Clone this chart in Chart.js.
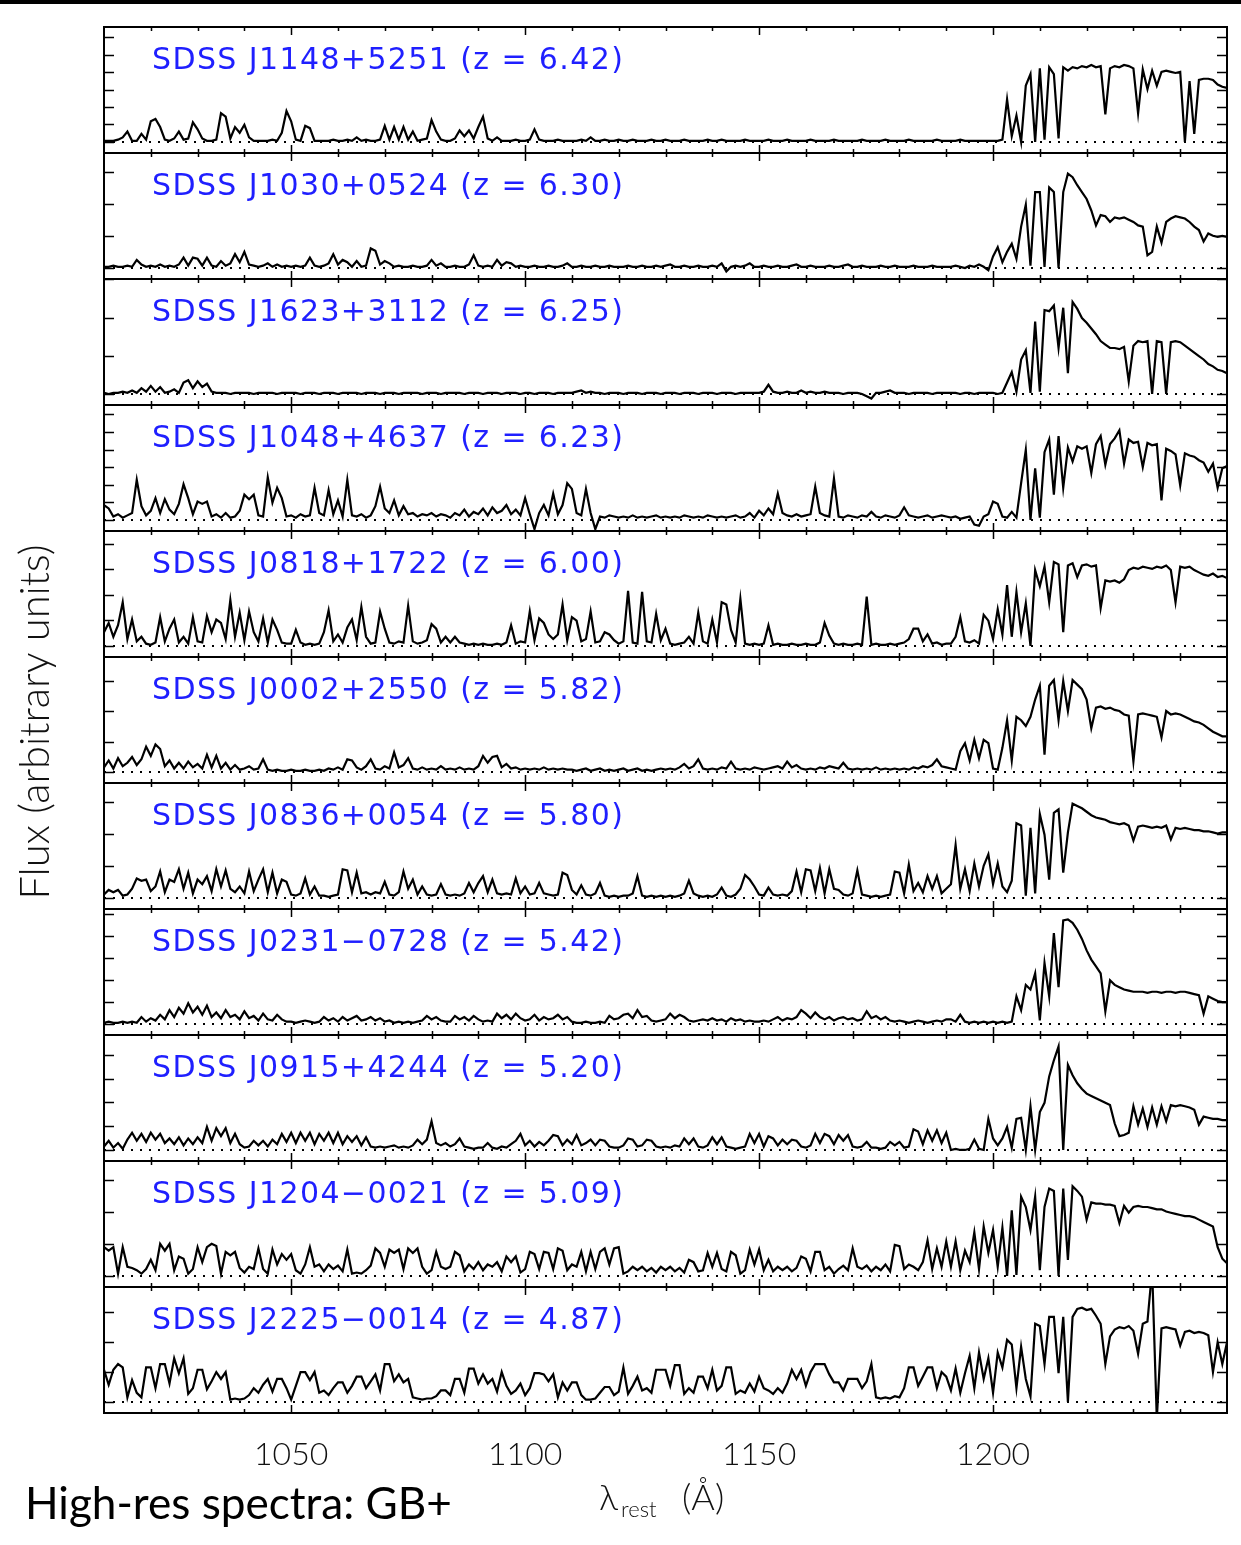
<!DOCTYPE html>
<html>
<head>
<meta charset="utf-8">
<title>High-res spectra: GB+</title>
<script src="https://cdn.jsdelivr.net/npm/chart.js@4.4.1/dist/chart.umd.min.js"></script>
<style>
  html, body { margin: 0; padding: 0; background: #fff; }
  #wrap { position: relative; width: 1241px; height: 1545px; }
  canvas { display: block; }
</style>
</head>
<body>
<div id="wrap"><canvas id="specChart" width="1241" height="1545"></canvas></div>
<script>
"use strict";

// rest-frame wavelength grid (A), 1 A steps
const waveGrid = [
  1010, 1011, 1012, 1013, 1014, 1015, 1016, 1017, 1018, 1019,
  1020, 1021, 1022, 1023, 1024, 1025, 1026, 1027, 1028, 1029,
  1030, 1031, 1032, 1033, 1034, 1035, 1036, 1037, 1038, 1039,
  1040, 1041, 1042, 1043, 1044, 1045, 1046, 1047, 1048, 1049,
  1050, 1051, 1052, 1053, 1054, 1055, 1056, 1057, 1058, 1059,
  1060, 1061, 1062, 1063, 1064, 1065, 1066, 1067, 1068, 1069,
  1070, 1071, 1072, 1073, 1074, 1075, 1076, 1077, 1078, 1079,
  1080, 1081, 1082, 1083, 1084, 1085, 1086, 1087, 1088, 1089,
  1090, 1091, 1092, 1093, 1094, 1095, 1096, 1097, 1098, 1099,
  1100, 1101, 1102, 1103, 1104, 1105, 1106, 1107, 1108, 1109,
  1110, 1111, 1112, 1113, 1114, 1115, 1116, 1117, 1118, 1119,
  1120, 1121, 1122, 1123, 1124, 1125, 1126, 1127, 1128, 1129,
  1130, 1131, 1132, 1133, 1134, 1135, 1136, 1137, 1138, 1139,
  1140, 1141, 1142, 1143, 1144, 1145, 1146, 1147, 1148, 1149,
  1150, 1151, 1152, 1153, 1154, 1155, 1156, 1157, 1158, 1159,
  1160, 1161, 1162, 1163, 1164, 1165, 1166, 1167, 1168, 1169,
  1170, 1171, 1172, 1173, 1174, 1175, 1176, 1177, 1178, 1179,
  1180, 1181, 1182, 1183, 1184, 1185, 1186, 1187, 1188, 1189,
  1190, 1191, 1192, 1193, 1194, 1195, 1196, 1197, 1198, 1199,
  1200, 1201, 1202, 1203, 1204, 1205, 1206, 1207, 1208, 1209,
  1210, 1211, 1212, 1213, 1214, 1215, 1216, 1217, 1218, 1219,
  1220, 1221, 1222, 1223, 1224, 1225, 1226, 1227, 1228, 1229,
  1230, 1231, 1232, 1233, 1234, 1235, 1236, 1237, 1238, 1239,
  1240, 1241, 1242, 1243, 1244, 1245, 1246, 1247, 1248, 1249,
  1250
];

const quasarNames = [
  "J1148+5251", "J1030+0524", "J1623+3112", "J1048+4637", "J0818+1722", "J0002+2550",
  "J0836+0054", "J0231\u22120728", "J0915+4244", "J1204\u22120021", "J2225\u22120014"
];
const redshifts = [6.42, 6.30, 6.25, 6.23, 6.00, 5.82, 5.80, 5.42, 5.20, 5.09, 4.87];

// flux of each quasar, 0 = zero level, 100 = top of its panel
const fluxJ1148 = [
  1, 1, 1, 2, 4, 9, 1, 1, 7, 2,
  18, 20, 13, 2, 1, 3, 9, 2, 3, 17,
  11, 3, 1, 1, 2, 25, 22, 3, 13, 8,
  15, 4, 1, 1, 1, 1, 2, 1, 8, 27,
  18, 2, 1, 14, 12, 1, 1, 1, 1, 2,
  1, 1, 2, 1, 4, 1, 2, 1, 1, 2,
  14, 2, 13, 2, 13, 2, 9, 1, 2, 3,
  19, 9, 2, 1, 1, 3, 10, 5, 10, 3,
  13, 22, 3, 1, 4, 1, 1, 1, 2, 1,
  1, 2, 11, 2, 1, 1, 1, 2, 1, 1,
  1, 1, 2, 1, 4, 1, 1, 2, 1, 1,
  2, 1, 1, 2, 1, 1, 1, 2, 1, 1,
  2, 1, 1, 1, 2, 1, 1, 1, 1, 2,
  1, 1, 2, 1, 1, 1, 1, 2, 1, 1,
  1, 1, 2, 1, 1, 1, 2, 1, 1, 1,
  1, 2, 1, 1, 1, 1, 2, 1, 1, 1,
  1, 1, 2, 1, 1, 1, 1, 2, 1, 1,
  1, 1, 2, 1, 1, 1, 1, 1, 2, 1,
  1, 1, 1, 2, 1, 1, 1, 1, 1, 1, 1,
  1, 2, 37, 5, 23, 0, 49, 59, 0, 64,
  2, 65, 59, 3, 65, 62, 65, 64, 66, 65,
  67, 65, 66, 24, 64, 66, 65, 67, 66, 64,
  25, 63, 46, 62, 49, 61, 62, 61, 60, 61,
  0, 53, 7, 54, 55, 55, 54, 50, 48, 47
];
const fluxJ1030 = [
  1, 1, 2, 1, 1, 2, 1, 7, 3, 1,
  2, 1, 3, 1, 2, 1, 3, 9, 2, 9,
  8, 2, 9, 2, 1, 6, 2, 4, 12, 5,
  14, 3, 2, 1, 2, 4, 1, 3, 1, 2,
  1, 2, 1, 2, 9, 2, 1, 2, 4, 12,
  3, 7, 5, 1, 6, 1, 2, 17, 15, 3,
  6, 4, 1, 2, 1, 1, 2, 1, 1, 2,
  7, 2, 4, 1, 1, 2, 1, 1, 3, 11,
  2, 1, 2, 1, 7, 2, 5, 4, 1, 2,
  1, 1, 2, 1, 1, 2, 1, 1, 2, 4,
  1, 1, 2, 1, 1, 2, 1, 1, 2, 1,
  1, 1, 2, 1, 1, 2, 1, 1, 2, 1,
  2, 3, 1, 1, 2, 1, 1, 2, 1, 1,
  2, 1, 4, -3, 1, 2, 1, 2, 4, 1,
  1, 2, 1, 1, 2, 1, 1, 2, 3, 1,
  1, 2, 1, 1, 1, 2, 1, 1, 2, 3,
  1, 1, 2, 1, 1, 1, 2, 1, 1, 2,
  1, 1, 1, 2, 1, 1, 1, 2, 1, 1,
  1, 1, 2, 1, 0, 2, 1, 3, 1, -2, 10,
  18, 5, 14, 21, 8, 36, 55, 2, 66, 66,
  1, 70, 66, 0, 66, 82, 79, 72, 66, 60,
  50, 37, 46, 45, 40, 44, 43, 44, 42, 40,
  37, 36, 11, 14, 36, 22, 40, 43, 45, 44,
  43, 40, 36, 33, 23, 30, 28, 27, 28, 27
];
const fluxJ1623 = [
  1, 0, 1, 1, 2, 1, 3, 1, 5, 2,
  7, 2, 6, 1, 2, 4, 1, 10, 12, 5,
  11, 6, 9, 2, 1, 1, 1, 0, 1, 1,
  1, 1, 0, 1, 1, 1, 1, 0, 1, 1,
  1, 1, 0, 1, 1, 1, 0, 1, 1, 1,
  0, 1, 1, 1, 1, 0, 1, 1, 1, 0,
  1, 1, 1, 0, 1, 1, 1, 1, 0, 1,
  1, 1, 0, 1, 1, 1, 1, 0, 1, 1,
  1, 0, 1, 1, 1, 0, 1, 1, 1, 0,
  1, 1, 0, 1, 1, 1, 0, 1, 1, 1,
  1, 2, 3, 1, 2, 1, 1, 0, 1, 1,
  1, 0, 1, 1, 1, 0, 1, 1, 1, 0,
  1, 1, 1, 0, 1, 1, 1, 0, 1, 1,
  1, 0, 1, 1, 1, 0, 1, 1, 1, 1,
  1, 2, 8, 2, 1, 1, 2, 1, 1, 3,
  1, 2, 1, 1, 2, 1, 1, 1, 0, 1,
  1, 1, 0, -2, -4, 1, 1, 2, 3, 1,
  1, 1, 0, 1, 1, 1, 1, 0, 1, 1,
  1, 1, 1, 0, 1, 1, 0, 1, 1, 1, 1,
  0, 1, 10, 19, 2, 30, 38, 1, 63, 2,
  73, 72, 77, 40, 75, 18, 80, 74, 66, 62,
  57, 52, 46, 43, 40, 40, 39, 41, 11, 42,
  46, 45, 46, 0, 46, 45, 0, 45, 46, 45,
  42, 39, 36, 33, 30, 26, 24, 21, 20, 18
];
const fluxJ1048 = [
  13, 10, 3, 5, 2, 4, 6, 35, 12, 4,
  8, 19, 6, 18, 9, 5, 14, 31, 19, 5,
  16, 14, 16, 3, 5, 2, 6, 2, 3, 8,
  22, 18, 22, 4, 3, 37, 15, 28, 19, 3,
  4, 2, 5, 3, 4, 28, 6, 4, 26, 5,
  17, 3, 35, 4, 3, 5, 2, 4, 12, 29,
  10, 6, 17, 4, 12, 5, 6, 3, 5, 4,
  6, 3, 5, 4, 2, 6, 4, 9, 3, 7,
  5, 10, 4, 11, 6, 8, 13, 5, 9, 4,
  19, 5, -8, 6, 13, 4, 23, 5, 13, 32,
  27, 6, 4, 27, 6, -8, 3, 2, 4, 3,
  2, 3, 2, 4, 2, 3, 2, 3, 4, 2,
  3, 2, 3, 2, 4, 3, 2, 3, 2, 4,
  3, 2, 3, 2, 3, 4, 2, 3, 6, 2,
  8, 4, 10, 5, 23, 6, 4, 3, 5, 3,
  4, 5, 29, 6, 4, 3, 36, 3, 2, 4,
  3, 2, 4, 3, 7, 3, 2, 4, 3, 2,
  4, 11, 4, 3, 2, 3, 4, 2, 3, 4,
  3, 2, 3, 1, 2, 3, -4, -5, 3, 5, 16,
  14, 3, 2, 7, 2, 32, 61, 0, 45, 2,
  59, 70, 22, 73, 28, 63, 51, 64, 62, 64,
  41, 66, 73, 48, 66, 71, 78, 49, 70, 67,
  68, 46, 67, 65, 66, 17, 62, 60, 57, 30,
  58, 56, 55, 52, 50, 42, 49, 28, 45, 47
];
const fluxJ0818 = [
  12, 20, 8, 18, 38, 6, 23, 4, 8, 2,
  1, 3, 25, 4, 15, 23, 3, 8, 2, 25,
  4, 3, 26, 12, 23, 20, 6, 40, 8, 29,
  5, 30, 12, 4, 24, 3, 23, 14, 3, 2,
  2, 14, 3, 1, 2, 1, 2, 12, 31, 4,
  10, 3, 16, 23, 5, 34, 8, 2, 3, 30,
  15, 3, 2, 4, 3, 35, 4, 2, 3, 5,
  19, 15, 3, 8, 3, 8, 3, 2, 1, 2,
  1, 2, 1, 1, 2, 1, 3, 18, 2, 4,
  3, 30, 5, 24, 20, 10, 6, 10, 36, 5,
  25, 22, 4, 6, 30, 3, 4, 12, 10, 5,
  2, 4, 48, 3, 2, 47, 4, 3, 28, 5,
  15, 2, 1, 2, 3, 8, 2, 29, 4, 2,
  23, 3, 38, 36, 14, 3, 41, 2, 1, 2,
  1, 2, 18, 1, 2, 1, 1, 2, 1, 1,
  2, 1, 1, 3, 20, 9, 2, 1, 2, 1,
  1, 2, 1, 43, 1, 2, 1, 1, 2, 1,
  2, 3, 6, 15, 15, 4, 10, 2, 3, 1,
  2, 2, 8, 25, 4, 3, 5, 2, 27, 22, 6,
  32, 10, 53, 8, 47, 12, 37, 0, 66, 52,
  69, 38, 73, 71, 12, 70, 72, 60, 70, 71,
  69, 70, 33, 57, 56, 57, 55, 58, 66, 68,
  67, 69, 68, 67, 69, 68, 70, 66, 38, 69,
  68, 69, 66, 64, 62, 61, 63, 60, 61, 59
];
const fluxJ0002 = [
  4, 10, 3, 12, 5, 8, 13, 6, 11, 22,
  14, 24, 20, 5, 10, 3, 8, 3, 9, 4,
  7, 3, 15, 4, 14, 3, 8, 2, 6, 2,
  3, 5, 2, 3, 11, 2, 1, 2, 1, 1,
  2, 1, 1, 2, 1, 1, 2, 1, 3, 2,
  4, 2, 11, 10, 4, 2, 5, 11, 3, 2,
  5, 3, 17, 4, 6, 12, 3, 2, 4, 2,
  3, 2, 5, 2, 3, 2, 4, 2, 3, 2,
  5, 14, 8, 13, 14, 4, 7, 3, 4, 2,
  3, 2, 3, 2, 4, 2, 3, 2, 3, 2,
  2, 1, 2, 3, 1, 2, 3, 1, 2, 1,
  2, 3, 1, 2, 3, 1, 2, 1, 2, 3,
  2, 3, 2, 4, 7, 3, 5, 11, 3, 2,
  3, 2, 4, 3, 9, 3, 2, 3, 2, 4,
  3, 2, 3, 4, 5, 3, 9, 4, 6, 3,
  2, 3, 2, 4, 3, 5, 4, 3, 8, 3,
  2, 3, 2, 3, 2, 4, 2, 3, 2, 3,
  2, 3, 2, 4, 3, 5, 4, 6, 11, 5,
  4, 3, 2, 18, 25, 10, 28, 12, 28, 25, 3,
  2, 21, 45, 10, 48, 45, 40, 48, 63, 75,
  15, 75, 80, 45, 79, 53, 80, 76, 72, 63,
  38, 56, 57, 55, 56, 54, 53, 50, 49, 9,
  50, 51, 50, 49, 48, 30, 53, 50, 51, 50,
  48, 46, 44, 43, 41, 38, 35, 33, 31, 31
];
const fluxJ0836 = [
  3, 7, 5, 7, 2, 3, 8, 17, 15, 16,
  6, 10, 23, 5, 16, 14, 25, 8, 22, 4,
  16, 12, 19, 6, 25, 10, 24, 8, 5, 10,
  4, 23, 6, 16, 25, 5, 22, 4, 16, 14,
  3, 2, 4, 17, 3, 10, 2, 2, 1, 2,
  3, 25, 24, 5, 22, 4, 5, 3, 5, 4,
  14, 3, 2, 5, 23, 8, 16, 3, 10, 3,
  2, 3, 12, 3, 2, 3, 2, 4, 13, 5,
  13, 19, 5, 16, 4, 3, 4, 3, 17, 4,
  10, 3, 4, 13, 4, 3, 2, 3, 22, 20,
  7, 3, 11, 3, 2, 4, 13, 2, 1, 2,
  1, 2, 2, 4, 19, 2, 1, 2, 1, 2,
  1, 2, 1, 2, 4, 15, 4, 2, 1, 2,
  1, 3, 9, 2, 1, 3, 8, 20, 16, 10,
  3, 2, 9, 3, 2, 3, 2, 6, 23, 5,
  25, 24, 6, 26, 4, 25, 8, 7, 3, 2,
  4, 24, 3, 2, 1, 2, 1, 2, 3, 23,
  22, 4, 29, 6, 13, 5, 19, 8, 19, 4,
  8, 12, 46, 8, 25, 6, 30, 10, 28, 38, 12,
  30, 10, 5, 15, 65, 63, 2, 61, 4, 73,
  55, 16, 74, 77, 22, 57, 82, 80, 78, 75,
  72, 70, 69, 68, 66, 65, 64, 65, 63, 50,
  62, 63, 62, 61, 62, 61, 63, 51, 61, 60,
  61, 60, 59, 59, 58, 58, 57, 56, 57, 57
];
const fluxJ0231 = [
  1, 2, 1, 1, 2, 1, 2, 1, 6, 2,
  5, 3, 8, 4, 12, 6, 14, 9, 18, 10,
  15, 8, 16, 6, 10, 5, 12, 6, 8, 4,
  11, 5, 7, 3, 9, 4, 3, 8, 4, 2,
  2, 1, 2, 3, 2, 1, 2, 6, 3, 5,
  2, 6, 3, 5, 7, 3, 4, 6, 3, 5,
  2, 3, 1, 2, 1, 2, 1, 2, 3, 7,
  4, 6, 3, 2, 2, 7, 4, 6, 3, 7,
  4, 2, 3, 2, 9, 5, 8, 4, 9, 5,
  3, 4, 8, 3, 6, 4, 5, 8, 4, 6,
  2, 1, 1, 2, 1, 1, 2, 1, 7, 4,
  5, 8, 9, 5, 12, 6, 7, 3, 2, 3,
  4, 9, 5, 8, 6, 3, 2, 3, 4, 3,
  5, 3, 4, 2, 5, 3, 4, 2, 3, 2,
  2, 3, 2, 4, 6, 3, 5, 4, 6, 12,
  9, 5, 10, 6, 4, 6, 3, 5, 6, 4,
  5, 3, 4, 11, 5, 7, 4, 6, 3, 2,
  3, 2, 1, 2, 3, 2, 1, 2, 3, 2,
  4, 4, 2, 8, 2, 1, 2, 1, 2, 1, 2,
  1, 2, 1, 2, 24, 12, 34, 30, 44, 3,
  53, 24, 79, 32, 90, 91, 88, 82, 74, 64,
  56, 50, 44, 11, 38, 34, 32, 30, 29, 28,
  28, 28, 27, 28, 28, 27, 28, 28, 27, 28,
  28, 27, 26, 25, 9, 24, 22, 20, 19, 19
];
const fluxJ0915 = [
  3, 8, 2, 6, 1, 9, 15, 8, 14, 7,
  15, 9, 14, 6, 10, 5, 11, 4, 10, 5,
  11, 6, 20, 8, 19, 12, 19, 6, 14, 5,
  2, 3, 8, 4, 8, 3, 9, 5, 14, 7,
  15, 6, 15, 8, 15, 5, 14, 8, 15, 6,
  15, 5, 12, 7, 12, 4, 11, 3, 2, 3,
  2, 3, 4, 2, 3, 2, 4, 9, 5, 9,
  25, 6, 4, 6, 3, 5, 10, 3, 2, 1,
  2, 2, 6, 2, 1, 3, 2, 5, 8, 14,
  4, 8, 3, 7, 4, 8, 13, 12, 4, 9,
  5, 13, 4, 6, 9, 4, 9, 8, 3, 2,
  2, 4, 10, 9, 3, 4, 9, 8, 3, 2,
  3, 2, 4, 3, 10, 5, 10, 3, 2, 4,
  11, 5, 11, 3, 2, 1, 2, 3, 14, 6,
  14, 3, 12, 10, 4, 9, 5, 9, 8, 3,
  2, 4, 14, 6, 14, 12, 5, 13, 8, 13,
  3, 2, 3, 7, 2, 2, 1, 2, 7, 4,
  7, 2, 3, 18, 16, 5, 17, 8, 17, 6,
  15, 0, 1, 0, 0, 1, 9, 1, 0, 27, 10,
  4, 10, 20, 2, 27, 28, 0, 38, 0, 33,
  41, 64, 78, 90, 0, 74, 65, 58, 53, 49,
  47, 45, 43, 41, 39, 23, 12, 13, 15, 38,
  22, 36, 20, 37, 22, 38, 25, 39, 38, 39,
  38, 37, 35, 22, 29, 28, 27, 27, 26, 26
];
const fluxJ1204 = [
  25, 22, 25, 2, 25, 8, 7, 5, 2, 6,
  14, 5, 28, 22, 28, 5, 17, 15, 2, 6,
  25, 12, 25, 28, 26, 2, 21, 18, 21, 7,
  3, 8, 6, 24, 6, 2, 23, 10, 19, 14,
  19, 5, 2, 10, 25, 8, 10, 4, 10, 6,
  9, 4, 23, 2, 3, 2, 5, 9, 24, 20,
  8, 23, 20, 23, 6, 24, 20, 24, 8, 2,
  5, 21, 8, 6, 8, 21, 18, 4, 10, 6,
  12, 5, 10, 8, 12, 4, 17, 12, 17, 3,
  6, 21, 19, 6, 21, 20, 6, 24, 22, 5,
  10, 8, 21, 4, 21, 6, 21, 24, 10, 24,
  25, 2, 4, 8, 5, 8, 4, 7, 3, 8,
  5, 8, 4, 7, 3, 14, 12, 4, 5, 20,
  8, 20, 6, 4, 21, 18, 2, 5, 23, 10,
  23, 5, 14, 4, 8, 5, 8, 4, 7, 17,
  15, 4, 21, 21, 5, 8, 2, 6, 9, 5,
  24, 8, 6, 9, 4, 8, 5, 10, 4, 27,
  26, 6, 10, 8, 5, 12, 31, 6, 24, 8,
  30, 8, 30, 5, 22, 12, 38, 6, 43, 20, 40,
  8, 42, 0, 57, 1, 69, 60, 40, 69, 5,
  60, 76, 74, 0, 76, 14, 78, 74, 69, 49,
  64, 63, 63, 62, 62, 61, 46, 61, 55, 60,
  61, 60, 60, 59, 58, 58, 56, 55, 54, 53,
  52, 52, 51, 49, 47, 45, 43, 25, 15, 11
];
const fluxJ2225 = [
  28, 15, 28, 33, 30, 4, 19, 8, 4, 30,
  30, 12, 33, 33, 16, 38, 25, 38, 7, 12,
  28, 28, 11, 18, 26, 20, 26, 2, 3, 2,
  3, 6, 12, 8, 15, 20, 9, 20, 20, 12,
  2, 14, 26, 26, 19, 26, 8, 10, 6, 12,
  17, 17, 8, 14, 22, 22, 12, 18, 24, 10,
  33, 33, 18, 24, 17, 20, 4, 3, 2, 3,
  3, 5, 10, 10, 6, 20, 20, 8, 29, 29,
  16, 24, 16, 20, 9, 26, 14, 7, 10, 16,
  6, 12, 25, 25, 24, 18, 24, 4, 17, 10,
  17, 17, 6, 2, 2, 3, 8, 13, 13, 6,
  9, 30, 7, 14, 22, 10, 12, 8, 28, 28,
  28, 14, 32, 32, 7, 12, 8, 22, 22, 12,
  28, 10, 14, 30, 30, 7, 10, 8, 16, 9,
  22, 12, 10, 7, 12, 8, 16, 28, 20, 28,
  14, 26, 33, 33, 33, 24, 17, 17, 10, 20,
  20, 20, 12, 18, 33, 4, 3, 4, 3, 5,
  4, 12, 30, 30, 14, 22, 30, 30, 12, 26,
  22, 10, 29, 8, 25, 40, 12, 43, 20, 38, 8,
  43, 30, 54, 50, 12, 48, 20, 5, 68, 66,
  33, 74, 74, 25, 74, 0, 74, 81, 82, 80,
  81, 75, 68, 33, 57, 63, 65, 64, 66, 62,
  42, 68, 70, 115, -15, 64, 65, 64, 63, 49,
  61, 62, 60, 61, 60, 58, 26, 52, 33, 52
];

const fluxSeries = [
  fluxJ1148, fluxJ1030, fluxJ1623, fluxJ1048, fluxJ0818, fluxJ0002,
  fluxJ0836, fluxJ0231, fluxJ0915, fluxJ1204, fluxJ2225
];

// spacing of the y tick marks in each panel, same units as the flux
const yTickSteps = [15.2, 27.8, 33.2, 15.3, 22.2, 26.3, 27.7, 19.1, 20.7, 27.7, 26.1];
const xTickValues = [1050, 1100, 1150, 1200];
const xMinorTicks = [1020, 1030, 1040, 1050, 1060, 1070, 1080, 1090, 1100, 1110, 1120,
  1130, 1140, 1150, 1160, 1170, 1180, 1190, 1200, 1210, 1220, 1230, 1240];

fluxSeries.forEach((f, i) => {
  if (f.length !== waveGrid.length) console.error("length mismatch", quasarNames[i], f.length);
});

Chart.defaults.font.family = "Lato, 'DejaVu Sans', sans-serif";

const panelIds = quasarNames.map((n, i) => "y" + i);

const datasets = [];
fluxSeries.forEach((flux, i) => {
  datasets.push({
    label: quasarNames[i],
    data: waveGrid.map((w, k) => ({ x: w, y: flux[k] })),
    yAxisID: panelIds[i],
    borderColor: "#000",
    borderWidth: 2.2,
    pointRadius: 0,
    tension: 0,
    order: 0
  });
  datasets.push({
    label: "zero " + quasarNames[i],
    data: [{ x: 1010, y: 0 }, { x: 1250, y: 0 }],
    yAxisID: panelIds[i],
    borderColor: "#000",
    borderWidth: 2,
    borderDash: [2, 7],
    pointRadius: 0,
    order: 1
  });
});

const scales = {
  x: {
    type: "linear",
    min: 1010,
    max: 1250,
    position: "bottom",
    grid: { display: false },
    border: { display: false },
    afterBuildTicks: (s) => { s.ticks = xTickValues.map(v => ({ value: v })); },
    afterFit: (s) => { s.height = 132; },
    ticks: {
      autoSkip: false,
      maxRotation: 0,
      padding: 14,
      color: "#111",
      font: { size: 32, weight: "300" },
      callback: (v) => String(v)
    }
  }
};
// stacked left axes: the last one listed is placed on top, so list bottom panel first
for (let i = quasarNames.length - 1; i >= 0; i--) {
  scales[panelIds[i]] = {
    type: "linear",
    position: "left",
    stack: "panels",
    stackWeight: 1,
    min: -9.6,
    max: 100,
    grid: { display: false },
    border: { display: false },
    ticks: { display: false },
    afterFit: (s) => { s.width = 0; }
  };
}

// keep each spectrum inside its own panel
const panelClip = {
  id: "panelClip",
  beforeDatasetDraw(chart, args) {
    const ys = chart.scales[args.meta.yAxisID];
    const a = chart.chartArea;
    chart.ctx.save();
    chart.ctx.beginPath();
    chart.ctx.rect(a.left, ys.top, a.right - a.left, ys.bottom - ys.top);
    chart.ctx.clip();
  },
  afterDatasetDraw(chart) {
    chart.ctx.restore();
  }
};

function fitFont(ctx, text, weight, family, width) {
  ctx.font = weight + " 40px " + family;
  const size = 40 * width / ctx.measureText(text).width;
  return weight + " " + size.toFixed(1) + "px " + family;
}

const panelFrames = {
  id: "panelFrames",
  afterDraw(chart) {
    const ctx = chart.ctx;
    const a = chart.chartArea;
    const xs = chart.scales.x;
    ctx.save();
    ctx.fillStyle = "#000";
    ctx.fillRect(0, 0, chart.width, 4);

    panelIds.forEach((id, i) => {
      const ys = chart.scales[id];
      ctx.strokeStyle = "#000";
      ctx.lineWidth = 2;
      ctx.strokeRect(a.left, ys.top, a.right - a.left, ys.bottom - ys.top);

      ctx.lineWidth = 1.5;
      ctx.beginPath();
      for (let v = 0; v <= ys.max; v += yTickSteps[i]) {
        const py = Math.round(ys.getPixelForValue(v)) + 0.5;
        ctx.moveTo(a.left, py);
        ctx.lineTo(a.left + 10, py);
        ctx.moveTo(a.right, py);
        ctx.lineTo(a.right - 10, py);
      }
      xMinorTicks.forEach(w => {
        const px = Math.round(xs.getPixelForValue(w)) + 0.5;
        const len = xTickValues.includes(w) ? 8 : 4;
        ctx.moveTo(px, ys.top);
        ctx.lineTo(px, ys.top + len);
        ctx.moveTo(px, ys.bottom);
        ctx.lineTo(px, ys.bottom - len);
      });
      ctx.stroke();

      // quasar label
      const text = "SDSS " + quasarNames[i] + " (z = " + redshifts[i].toFixed(2) + ")";
      ctx.font = "30px 'DejaVu Sans'";
      ctx.letterSpacing = "0px";
      const natural = ctx.measureText(text).width;
      ctx.letterSpacing = ((471 - natural) / (text.length - 1)).toFixed(2) + "px";
      ctx.fillStyle = "#1f1fff";
      ctx.textAlign = "left";
      ctx.textBaseline = "alphabetic";
      ctx.fillText(text, a.left + 48, ys.top + 42);
      ctx.letterSpacing = "0px";
    });

    // y axis title
    ctx.fillStyle = "#111";
    ctx.save();
    ctx.translate(36, 722);
    ctx.rotate(-Math.PI / 2);
    ctx.font = fitFont(ctx, "Flux (arbitrary units)", "300", "Lato", 355);
    ctx.textAlign = "center";
    ctx.textBaseline = "middle";
    ctx.fillText("Flux (arbitrary units)", 0, 0);
    ctx.restore();

    // x axis title: lambda_rest (A)
    ctx.textAlign = "left";
    ctx.textBaseline = "alphabetic";
    ctx.font = "300 36px Lato";
    ctx.fillText("\u03bb", 599, 1510);
    ctx.font = "300 22px Lato";
    ctx.fillText("rest", 621, 1517);
    ctx.font = "300 36px Lato";
    ctx.fillText("(\u00c5)", 682, 1510);

    // slide title
    ctx.fillStyle = "#000";
    ctx.font = fitFont(ctx, "High-res spectra: GB+", "normal", "Lato", 427);
    ctx.fillText("High-res spectra: GB+", 25, 1519);
    ctx.restore();
  }
};

new Chart(document.getElementById("specChart"), {
  type: "line",
  data: { datasets: datasets },
  options: {
    responsive: false,
    animation: false,
    layout: { padding: { left: 104, right: 14, top: 27, bottom: 0 } },
    scales: scales,
    plugins: {
      legend: { display: false },
      tooltip: { enabled: false }
    }
  },
  plugins: [panelClip, panelFrames]
});
</script>
</body>
</html>
